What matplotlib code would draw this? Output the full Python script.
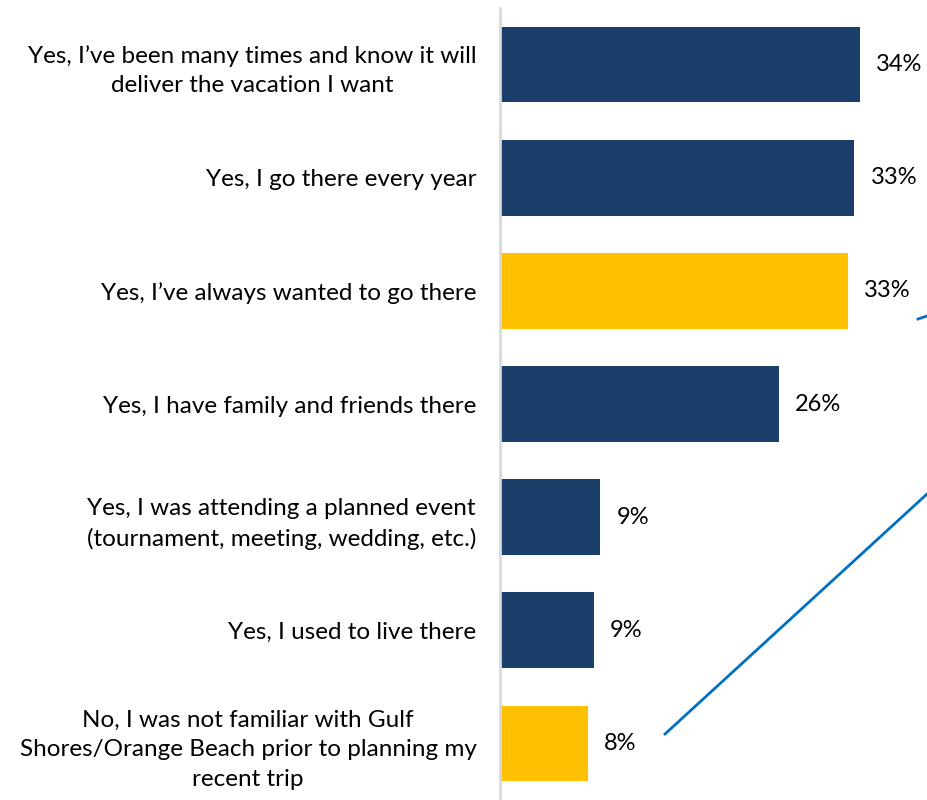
import matplotlib.pyplot as plt
from matplotlib.lines import Line2D

plt.rcParams['font.family'] = ['Lato', 'DejaVu Sans']

# Reasons for choosing the destination (% of respondents)
reasons = [
    "Yes, I\u2019ve been many times and know it will\ndeliver the vacation I want",
    "Yes, I go there every year",
    "Yes, I\u2019ve always wanted to go there",
    "Yes, I have family and friends there",
    "Yes, I was attending a planned event\n(tournament, meeting, wedding, etc.)",
    "Yes, I used to live there",
    "No, I was not familiar with Gulf\nShores/Orange Beach prior to planning my\nrecent trip",
]
shares = [33.7, 33.2, 32.6, 26.1, 9.4, 8.8, 8.2]
highlight = [False, False, True, False, False, False, True]

navy = '#1B3F6B'
gold = '#FFC000'
colors = [gold if h else navy for h in highlight]

fig = plt.figure(figsize=(9.27, 8.0), dpi=100)
ax = fig.add_axes([500 / 927, 0.0, 427 / 927, 792 / 800])

y = list(range(len(reasons)))
ax.barh(y, shares, height=0.67, color=colors)

for yi, v in zip(y, shares):
    ax.text(v + 1.5, yi, f"{v:.0f}%", va='center', ha='left', fontsize=17, color='black')

ax.set_xlim(0, 40)
ax.set_ylim(6.5, -0.5)
ax.set_yticks(y)
ax.set_yticklabels(reasons, fontsize=17.5, multialignment='center', linespacing=1.5)
ax.tick_params(axis='y', length=0, pad=17)
ax.set_xticks([])

for side in ['top', 'right', 'bottom']:
    ax.spines[side].set_visible(False)
ax.spines['left'].set_color('#D9D9D9')
ax.spines['left'].set_linewidth(2)

# connector lines leading off to the right
fig.add_artist(Line2D([665 / 927, 1.0], [1 - 734 / 800, 1 - 494 / 800],
                      color='#0070C0', linewidth=2))
fig.add_artist(Line2D([918 / 927, 1.0], [1 - 319 / 800, 1 - 316 / 800],
                      color='#0070C0', linewidth=2))

fig.savefig('out.png', dpi=100)
